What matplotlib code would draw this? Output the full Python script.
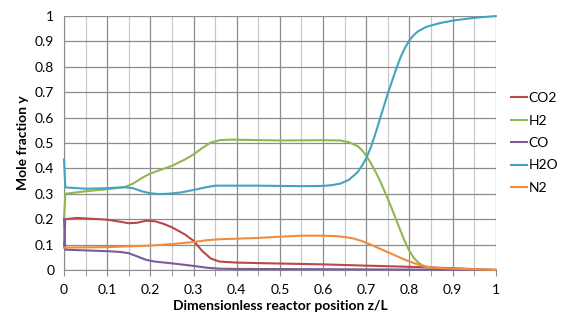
import matplotlib.pyplot as plt
from matplotlib.ticker import MultipleLocator

plt.rcParams['font.family'] = ['Lato', 'DejaVu Sans']

# mole fraction profiles along the reactor
z_h2o = [0, 0.003, 0.05, 0.1, 0.14, 0.16, 0.18, 0.2, 0.22, 0.24, 0.27, 0.3, 0.33, 0.35, 0.45, 0.55, 0.6, 0.62,
         0.64, 0.66, 0.68, 0.69, 0.7, 0.71, 0.72, 0.73, 0.74, 0.75, 0.76, 0.77, 0.78, 0.79, 0.8, 0.81, 0.82,
         0.84, 0.87, 0.9, 0.95, 1.0]
h2o = [0.435, 0.325, 0.32, 0.322, 0.326, 0.322, 0.31, 0.302, 0.299, 0.3, 0.305, 0.315, 0.326, 0.332, 0.332,
       0.33, 0.331, 0.334, 0.34, 0.355, 0.385, 0.41, 0.44, 0.48, 0.53, 0.585, 0.64, 0.695, 0.745, 0.795, 0.84,
       0.875, 0.905, 0.925, 0.94, 0.958, 0.972, 0.982, 0.993, 1.0]

z_h2 = [0, 0.003, 0.05, 0.1, 0.14, 0.16, 0.18, 0.2, 0.25, 0.28, 0.3, 0.32, 0.34, 0.36, 0.38, 0.4, 0.5, 0.6,
        0.64, 0.66, 0.68, 0.69, 0.7, 0.71, 0.72, 0.73, 0.74, 0.75, 0.76, 0.77, 0.78, 0.79, 0.8, 0.81, 0.82,
        0.83, 0.84, 0.86, 0.9, 1.0]
h2 = [0.2, 0.3, 0.31, 0.318, 0.326, 0.34, 0.362, 0.38, 0.41, 0.435, 0.455, 0.48, 0.502, 0.511, 0.513, 0.513,
      0.51, 0.511, 0.51, 0.503, 0.488, 0.472, 0.45, 0.423, 0.392, 0.358, 0.32, 0.28, 0.238, 0.195, 0.152, 0.11,
      0.075, 0.048, 0.03, 0.018, 0.011, 0.006, 0.003, 0.0]

z_co2 = [0, 0.003, 0.03, 0.1, 0.13, 0.15, 0.17, 0.19, 0.21, 0.23, 0.25, 0.28, 0.3, 0.32, 0.34, 0.36, 0.4,
         0.45, 0.6, 0.7, 0.85, 1.0]
co2 = [0.09, 0.2, 0.205, 0.198, 0.19, 0.184, 0.186, 0.194, 0.192, 0.182, 0.168, 0.14, 0.115, 0.075, 0.045,
       0.033, 0.029, 0.027, 0.022, 0.017, 0.01, 0.0]

z_co = [0, 0.003, 0.05, 0.1, 0.13, 0.15, 0.17, 0.19, 0.21, 0.25, 0.3, 0.33, 0.36, 0.4, 0.6, 1.0]
co = [0.2, 0.08, 0.077, 0.074, 0.071, 0.066, 0.053, 0.04, 0.033, 0.026, 0.016, 0.009, 0.005, 0.004, 0.003, 0.0]

z_n2 = [0, 0.05, 0.1, 0.2, 0.25, 0.3, 0.33, 0.36, 0.45, 0.5, 0.55, 0.6, 0.63, 0.65, 0.67, 0.69, 0.71, 0.73,
        0.75, 0.77, 0.79, 0.81, 0.83, 0.85, 0.9, 1.0]
n2 = [0.088, 0.089, 0.09, 0.096, 0.102, 0.11, 0.117, 0.121, 0.126, 0.131, 0.135, 0.135, 0.133, 0.13, 0.124,
      0.114, 0.1, 0.085, 0.07, 0.055, 0.04, 0.027, 0.017, 0.01, 0.005, 0.0]

fig = plt.figure(figsize=(5.64, 3.21), dpi=100)
ax = fig.add_axes([0.1135, 0.159, 0.7655, 0.791])

lines = [(z_co2, co2, '#B84946', 'CO2'), (z_h2, h2, '#92B650', 'H2'), (z_co, co, '#7A5C9C', 'CO'),
         (z_h2o, h2o, '#44A3BD', 'H2O'), (z_n2, n2, '#F28C3C', 'N2')]
for x, y, c, lab in lines:
    ax.plot(x, y, color=c, lw=1.5, label=lab, zorder=3, clip_on=False, solid_joinstyle='round')

ax.set_xlim(0, 1)
ax.set_ylim(0, 1)
ax.xaxis.set_minor_locator(MultipleLocator(0.05))
ax.grid(which='major', color='#8c8c8c', lw=0.9)
ax.grid(which='minor', axis='x', color='#c8c8c8', lw=0.9)
ax.set_axisbelow(True)
ax.set_xticks([i / 10 for i in range(11)])
ax.set_xticklabels(['0', '0.1', '0.2', '0.3', '0.4', '0.5', '0.6', '0.7', '0.8', '0.9', '1'])
ax.set_yticks([i / 10 for i in range(11)])
ax.set_yticklabels(['0', '0.1', '0.2', '0.3', '0.4', '0.5', '0.6', '0.7', '0.8', '0.9', '1'])
for s in ['top', 'right']:
    ax.spines[s].set_visible(False)
ax.spines['left'].set_color('#8c8c8c')
ax.spines['bottom'].set_color('#8c8c8c')
ax.tick_params(axis='x', which='both', length=4, color='#8c8c8c', labelsize=10, pad=6)
ax.tick_params(axis='y', length=0, labelsize=10, pad=7)

ax.set_xlabel('Dimensionless reactor position z/L', fontweight='bold', fontsize=10, labelpad=3)
ax.set_ylabel('Mole fraction y', fontweight='bold', fontsize=10)

ax.legend(loc='center left', bbox_to_anchor=(1.023, 0.5), borderaxespad=0, frameon=False, fontsize=10,
          handlelength=1.1, handletextpad=0.15, labelspacing=0.75)

fig.savefig('out.png', dpi=100)
